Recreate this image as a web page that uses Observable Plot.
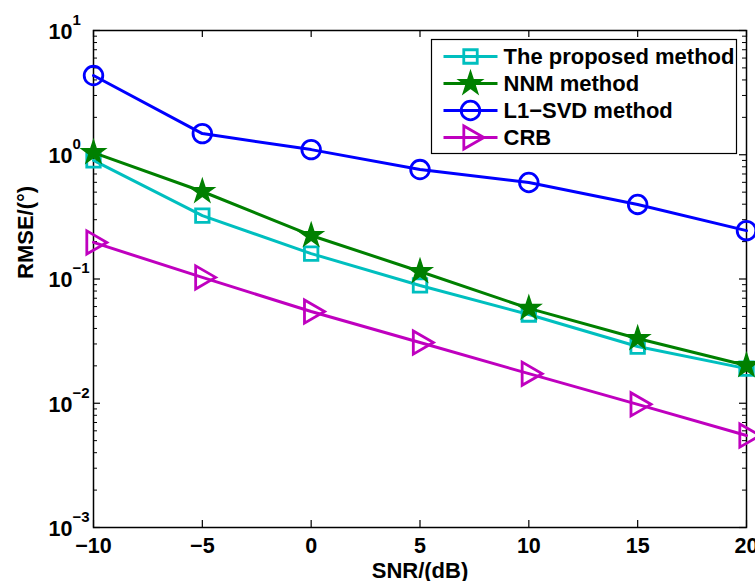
<!DOCTYPE html>
<html>
<head>
<meta charset="utf-8">
<script src="https://cdn.jsdelivr.net/npm/d3@7"></script>
<script src="https://cdn.jsdelivr.net/npm/@observablehq/plot@0.6"></script>
<style>
  html, body { margin: 0; padding: 0; background: #fff; }
  #chart svg { display: block; }
</style>
</head>
<body>
<div id="chart"></div>
<script>
// ---- data ----
const snr = [-10, -5, 0, 5, 10, 15, 20];
const proposed = [0.90, 0.324, 0.160, 0.0887, 0.0518, 0.0286, 0.0190];
const nnm = [1.04, 0.506, 0.224, 0.115, 0.058, 0.0332, 0.0201];
const l1svd = [4.34, 1.48, 1.10, 0.76, 0.598, 0.398, 0.245];
const crb = [0.197, 0.103, 0.0547, 0.0308, 0.0173, 0.0098, 0.0055];
const seriesNames = ["The proposed method", "NNM method", "L1\u2212SVD method", "CRB"];
const xTicks = [-10, -5, 0, 5, 10, 15, 20];
const xTickLabels = ["\u221210", "\u22125", "0", "5", "10", "15", "20"];
const yTicks = [1e-3, 1e-2, 1e-1, 1, 10];
const yTickBase = ["10", "10", "10", "10", "10"];
const yTickExp = ["\u22123", "\u22122", "\u22121", "0", "1"];
const minorMult = [2, 3, 4, 5, 6, 7, 8, 9];
const decades = [1e-3, 1e-2, 1e-1, 1];
const xLabel = "SNR/(dB)";
const yLabel = "RMSE/(\u00b0)";

// ---- styles ----
const colors = ["#00bfbf", "#008000", "#0000ff", "#bf00bf"];
const symbols = ["square", "star", "circle", "triangle"];
const radii = [7.6, 7.4, 9.3, 8.6];
const fills = ["none", "#008000", "none", "none"];
const strokeW = [2.8, 1.5, 2.8, 2.8];
const rotations = [0, 0, 0, 90];

const allSeries = [proposed, nnm, l1svd, crb];
const rows = allSeries.map((vals) => snr.map((x, i) => ({x, y: vals[i]})));
const minorTicks = decades.flatMap((d) => minorMult.map((m) => m * d));

const hline = {
  draw(context, size) {
    const r = Math.sqrt(size / Math.PI);
    context.moveTo(-r, 0);
    context.lineTo(r, 0);
  }
};

const W = 755, H = 581, ML = 93, MR = 9, MT = 30, MB = 54;
const FW = W - ML - MR, FH = H - MT - MB;
const bold = {fontWeight: "bold"};

const marks = [
  Plot.frame({stroke: "black", strokeWidth: 1.5}),
  // x ticks (bottom & top, inward)
  Plot.tickX(xTicks, {x: (d) => d, insetTop: FH - 7, stroke: "black", strokeWidth: 1.2}),
  Plot.tickX(xTicks, {x: (d) => d, insetBottom: FH - 7, stroke: "black", strokeWidth: 1.2}),
  // y major ticks
  Plot.tickY(yTicks, {y: (d) => d, insetRight: FW - 7, stroke: "black", strokeWidth: 1.2}),
  Plot.tickY(yTicks, {y: (d) => d, insetLeft: FW - 7, stroke: "black", strokeWidth: 1.2}),
  // y minor ticks
  Plot.tickY(minorTicks, {y: (d) => d, insetRight: FW - 4, stroke: "black", strokeWidth: 1}),
  Plot.tickY(minorTicks, {y: (d) => d, insetLeft: FW - 4, stroke: "black", strokeWidth: 1}),
  // tick labels
  Plot.text(xTicks, {x: (d) => d, frameAnchor: "bottom", text: (d, i) => xTickLabels[i], dy: 19, lineAnchor: "middle", fontSize: 21.5, ...bold}),
  Plot.text(yTicks, {y: (d) => d, frameAnchor: "left", text: (d, i) => yTickBase[i], textAnchor: "end", dx: -21, dy: 1.5, lineAnchor: "middle", fontSize: 21.5, ...bold}),
  Plot.text(yTicks, {y: (d) => d, frameAnchor: "left", text: (d, i) => yTickExp[i], textAnchor: "start", dx: -21, dy: -10.5, lineAnchor: "middle", fontSize: 15, ...bold}),
  // axis labels
  Plot.text([xLabel], {frameAnchor: "bottom", text: (d) => d, dy: 43, lineAnchor: "middle", fontSize: 22, ...bold}),
  Plot.text([yLabel], {frameAnchor: "left", text: (d) => d, dx: -68, rotate: -90, lineAnchor: "middle", fontSize: 22, ...bold})
];

// series
rows.forEach((data, k) => {
  marks.push(Plot.line(data, {x: "x", y: "y", stroke: colors[k], strokeWidth: 3}));
  marks.push(Plot.dot(data, {x: "x", y: "y", symbol: symbols[k], r: radii[k], stroke: colors[k], fill: fills[k], strokeWidth: strokeW[k], rotate: rotations[k]}));
});

// legend
marks.push(Plot.frame({insetLeft: 338, insetRight: 10, insetTop: 9, insetBottom: 374, fill: "white", stroke: "black", strokeWidth: 1.2}));
seriesNames.forEach((name, k) => {
  const dy = 26 + 27 * k;
  marks.push(Plot.dot([name], {frameAnchor: "top-left", dx: 377, dy, symbol: hline, r: 27, stroke: colors[k], strokeWidth: 3}));
  marks.push(Plot.dot([name], {frameAnchor: "top-left", dx: 377, dy, symbol: symbols[k], r: radii[k], stroke: colors[k], fill: fills[k], strokeWidth: strokeW[k], rotate: rotations[k]}));
  marks.push(Plot.text([name], {frameAnchor: "top-left", dx: 410, dy, text: (d) => d, textAnchor: "start", lineAnchor: "middle", fontSize: 22, ...bold}));
});

const chart = Plot.plot({
  width: W,
  height: H,
  marginLeft: ML,
  marginRight: MR,
  marginTop: MT,
  marginBottom: MB,
  x: {type: "linear", domain: [-10, 20], axis: null},
  y: {type: "log", domain: [1e-3, 10], axis: null},
  style: {fontFamily: "'Liberation Sans', Arial, Helvetica, sans-serif", background: "white", color: "black", overflow: "visible"},
  marks
});
document.getElementById("chart").appendChild(chart);
</script>
</body>
</html>
